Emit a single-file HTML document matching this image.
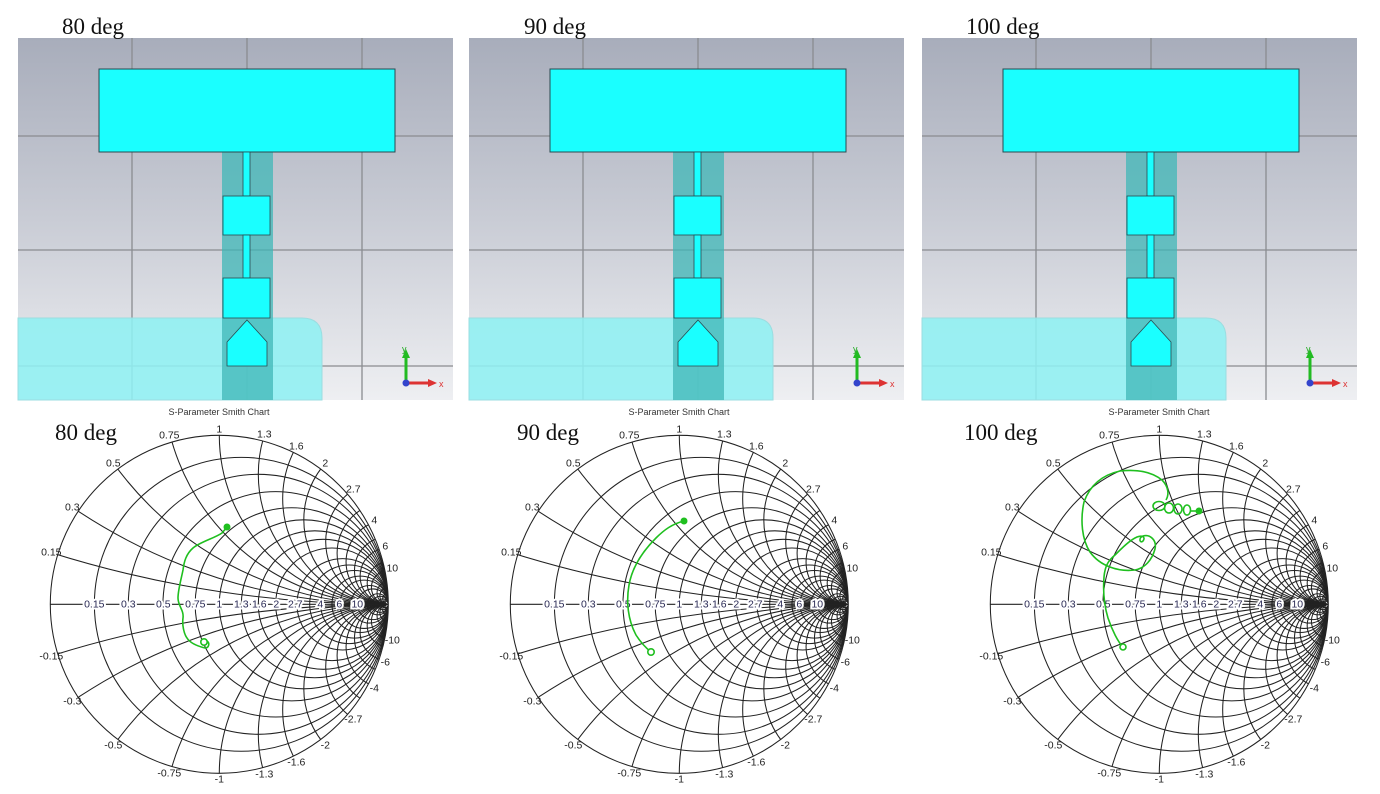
<!DOCTYPE html>
<html><head><meta charset="utf-8"><style>
html,body{margin:0;padding:0;background:#fff;overflow:hidden;}
svg{display:block;}
.lb{font-family:"Liberation Serif",serif;font-size:23px;fill:#111;}
.tk{font-family:"Liberation Sans",sans-serif;font-size:10.5px;fill:#222;text-anchor:middle;dominant-baseline:central;}
.ax{font-family:"Liberation Sans",sans-serif;font-size:10.5px;fill:#2a2a55;text-anchor:middle;dominant-baseline:central;paint-order:stroke;stroke:#fff;stroke-width:4px;}
.tt{font-family:"Liberation Sans",sans-serif;font-size:9px;fill:#333;text-anchor:middle;}
</style></head><body>
<svg width="1380" height="794" viewBox="0 0 1380 794" xmlns="http://www.w3.org/2000/svg">
<defs>
<linearGradient id="bg" x1="0" y1="0" x2="0" y2="1">
<stop offset="0" stop-color="#a8adbb"/><stop offset="0.5" stop-color="#c9ccd5"/><stop offset="1" stop-color="#eeeff2"/>
</linearGradient>
<clipPath id="uc"><circle cx="0" cy="0" r="1"/></clipPath>
<g id="panel">
<rect x="18" y="38" width="435" height="362" fill="url(#bg)"/>
<g stroke="#8a8c90" stroke-width="1.3">
<line x1="132" y1="38" x2="132" y2="400"/><line x1="247" y1="38" x2="247" y2="400"/><line x1="362" y1="38" x2="362" y2="400"/>
<line x1="18" y1="136" x2="453" y2="136"/><line x1="18" y1="250" x2="453" y2="250"/><line x1="18" y1="366" x2="453" y2="366"/>
</g>
<path d="M18 318 H302 Q322 318 322 338 V400 H18 Z" fill="#8ff0f2" fill-opacity="0.88" stroke="#9bdde0"/>
<rect x="222" y="152" width="51" height="248" fill="#3fb7b7" fill-opacity="0.75"/>
<rect x="99" y="69" width="296" height="83" fill="#1affff" stroke="#2a4a50" stroke-width="1"/>
<rect x="243" y="152" width="7" height="44" fill="#1affff" stroke="#2a4a50" stroke-width="0.8"/>
<rect x="223" y="196" width="47" height="39" fill="#1affff" stroke="#2a4a50" stroke-width="0.8"/>
<rect x="243" y="235" width="7" height="43" fill="#1affff" stroke="#2a4a50" stroke-width="0.8"/>
<rect x="223" y="278" width="47" height="40" fill="#1affff" stroke="#2a4a50" stroke-width="0.8"/>
<path d="M247 320 L267 342 V366 H227 V342 Z" fill="#1affff" stroke="#2a4a50" stroke-width="0.8"/>
<line x1="406" y1="383" x2="406" y2="356" stroke="#22bb22" stroke-width="3"/>
<path d="M402 358 L406 349 L410 358 Z" fill="#22bb22"/>
<line x1="406" y1="383" x2="430" y2="383" stroke="#dd3333" stroke-width="3"/>
<path d="M428 379 L437 383 L428 387 Z" fill="#dd3333"/>
<circle cx="406" cy="383" r="3.5" fill="#3344cc"/>
</g>
<g id="grid" fill="none" stroke="#222" stroke-width="0.0062">
<g clip-path="url(#uc)">
<circle cx=".1304" cy="0" r=".8696"/><circle cx=".2308" cy="0" r=".7692"/><circle cx=".3333" cy="0" r=".6667"/>
<circle cx=".4286" cy="0" r=".5714"/><circle cx=".5" cy="0" r=".5"/><circle cx=".5652" cy="0" r=".4348"/>
<circle cx=".6154" cy="0" r=".3846"/><circle cx=".6667" cy="0" r=".3333"/><circle cx=".7297" cy="0" r=".2703"/>
<circle cx=".7674" cy="0" r=".2326"/><circle cx=".8" cy="0" r=".2"/><circle cx=".8333" cy="0" r=".1667"/>
<circle cx=".8571" cy="0" r=".1429"/><circle cx=".8889" cy="0" r=".1111"/><circle cx=".9091" cy="0" r=".0909"/>
<circle cx=".9375" cy="0" r=".0625"/><circle cx=".9524" cy="0" r=".0476"/><circle cx=".9677" cy="0" r=".0323"/><circle cx=".9804" cy="0" r=".0196"/>
<circle cx="1" cy="-6.667" r="6.667"/><circle cx="1" cy="6.667" r="6.667"/>
<circle cx="1" cy="-3.333" r="3.333"/><circle cx="1" cy="3.333" r="3.333"/>
<circle cx="1" cy="-2" r="2"/><circle cx="1" cy="2" r="2"/>
<circle cx="1" cy="-1.333" r="1.333"/><circle cx="1" cy="1.333" r="1.333"/>
<circle cx="1" cy="-1" r="1"/><circle cx="1" cy="1" r="1"/>
<circle cx="1" cy="-.7692" r=".7692"/><circle cx="1" cy=".7692" r=".7692"/>
<circle cx="1" cy="-.625" r=".625"/><circle cx="1" cy=".625" r=".625"/>
<circle cx="1" cy="-.5" r=".5"/><circle cx="1" cy=".5" r=".5"/>
<circle cx="1" cy="-.3704" r=".3704"/><circle cx="1" cy=".3704" r=".3704"/>
<circle cx="1" cy="-.303" r=".303"/><circle cx="1" cy=".303" r=".303"/>
<circle cx="1" cy="-.25" r=".25"/><circle cx="1" cy=".25" r=".25"/>
<circle cx="1" cy="-.2" r=".2"/><circle cx="1" cy=".2" r=".2"/>
<circle cx="1" cy="-.1667" r=".1667"/><circle cx="1" cy=".1667" r=".1667"/>
<circle cx="1" cy="-.125" r=".125"/><circle cx="1" cy=".125" r=".125"/>
<circle cx="1" cy="-.1" r=".1"/><circle cx="1" cy=".1" r=".1"/>
<circle cx="1" cy="-.0667" r=".0667"/><circle cx="1" cy=".0667" r=".0667"/>
<circle cx="1" cy="-.05" r=".05"/><circle cx="1" cy=".05" r=".05"/>
<circle cx="1" cy="-.0333" r=".0333"/><circle cx="1" cy=".0333" r=".0333"/>
<circle cx="1" cy="-.02" r=".02"/><circle cx="1" cy=".02" r=".02"/>
<line x1="-1" y1="0" x2="1" y2="0"/>
</g>
<circle cx="0" cy="0" r="1"/>
</g>
</defs>

<use href="#panel"/>
<use href="#panel" x="451"/>
<use href="#panel" x="904"/>
<g font-family="Liberation Sans,sans-serif" font-size="9">
<text x="402" y="352" fill="#22aa22">y</text><text x="439" y="387" fill="#dd3333">x</text>
<text x="853" y="352" fill="#22aa22">y</text><text x="890" y="387" fill="#dd3333">x</text>
<text x="1306" y="352" fill="#22aa22">y</text><text x="1343" y="387" fill="#dd3333">x</text>
</g>
<text class="lb" x="62" y="34">80 deg</text>
<text class="lb" x="524" y="34">90 deg</text>
<text class="lb" x="966" y="34">100 deg</text>

<g transform="translate(219.3,604.3) scale(169)"><use href="#grid"/></g>
<g transform="translate(679.3,604.3) scale(169)"><use href="#grid"/></g>
<g transform="translate(1159.3,604.3) scale(169)"><use href="#grid"/></g>

<text class="tt" x="219" y="415">S-Parameter Smith Chart</text>
<text class="tt" x="679" y="415">S-Parameter Smith Chart</text>
<text class="tt" x="1159" y="415">S-Parameter Smith Chart</text>
<text class="lb" x="55" y="440">80 deg</text>
<text class="lb" x="517" y="440">90 deg</text>
<text class="lb" x="964" y="440">100 deg</text>

<g transform="translate(219.3,604.3)">
<text class="tk" x="-168" y="-52">0.15</text><text class="tk" x="-147" y="-97">0.3</text><text class="tk" x="-106" y="-141">0.5</text><text class="tk" x="-50" y="-169">0.75</text><text class="tk" x="0" y="-175">1</text><text class="tk" x="45" y="-170">1.3</text><text class="tk" x="77" y="-158">1.6</text><text class="tk" x="106" y="-141">2</text><text class="tk" x="134" y="-115">2.7</text><text class="tk" x="155" y="-84">4</text><text class="tk" x="166" y="-58">6</text><text class="tk" x="173" y="-36">10</text>
<text class="tk" x="-168" y="52">-0.15</text><text class="tk" x="-147" y="97">-0.3</text><text class="tk" x="-106" y="141">-0.5</text><text class="tk" x="-50" y="169">-0.75</text><text class="tk" x="0" y="175">-1</text><text class="tk" x="45" y="170">-1.3</text><text class="tk" x="77" y="158">-1.6</text><text class="tk" x="106" y="141">-2</text><text class="tk" x="134" y="115">-2.7</text><text class="tk" x="155" y="84">-4</text><text class="tk" x="166" y="58">-6</text><text class="tk" x="173" y="36">-10</text>
<text class="ax" x="-125" y="0">0.15</text><text class="ax" x="-91" y="0">0.3</text><text class="ax" x="-56" y="0">0.5</text><text class="ax" x="-24" y="0">0.75</text><text class="ax" x="0" y="0">1</text><text class="ax" x="22" y="0">1.3</text><text class="ax" x="40" y="0">1.6</text><text class="ax" x="57" y="0">2</text><text class="ax" x="76" y="0">2.7</text><text class="ax" x="101" y="0">4</text><text class="ax" x="120" y="0">6</text><text class="ax" x="138" y="0">10</text>
</g>
<g transform="translate(679.3,604.3)">
<text class="tk" x="-168" y="-52">0.15</text><text class="tk" x="-147" y="-97">0.3</text><text class="tk" x="-106" y="-141">0.5</text><text class="tk" x="-50" y="-169">0.75</text><text class="tk" x="0" y="-175">1</text><text class="tk" x="45" y="-170">1.3</text><text class="tk" x="77" y="-158">1.6</text><text class="tk" x="106" y="-141">2</text><text class="tk" x="134" y="-115">2.7</text><text class="tk" x="155" y="-84">4</text><text class="tk" x="166" y="-58">6</text><text class="tk" x="173" y="-36">10</text>
<text class="tk" x="-168" y="52">-0.15</text><text class="tk" x="-147" y="97">-0.3</text><text class="tk" x="-106" y="141">-0.5</text><text class="tk" x="-50" y="169">-0.75</text><text class="tk" x="0" y="175">-1</text><text class="tk" x="45" y="170">-1.3</text><text class="tk" x="77" y="158">-1.6</text><text class="tk" x="106" y="141">-2</text><text class="tk" x="134" y="115">-2.7</text><text class="tk" x="155" y="84">-4</text><text class="tk" x="166" y="58">-6</text><text class="tk" x="173" y="36">-10</text>
<text class="ax" x="-125" y="0">0.15</text><text class="ax" x="-91" y="0">0.3</text><text class="ax" x="-56" y="0">0.5</text><text class="ax" x="-24" y="0">0.75</text><text class="ax" x="0" y="0">1</text><text class="ax" x="22" y="0">1.3</text><text class="ax" x="40" y="0">1.6</text><text class="ax" x="57" y="0">2</text><text class="ax" x="76" y="0">2.7</text><text class="ax" x="101" y="0">4</text><text class="ax" x="120" y="0">6</text><text class="ax" x="138" y="0">10</text>
</g>
<g transform="translate(1159.3,604.3)">
<text class="tk" x="-168" y="-52">0.15</text><text class="tk" x="-147" y="-97">0.3</text><text class="tk" x="-106" y="-141">0.5</text><text class="tk" x="-50" y="-169">0.75</text><text class="tk" x="0" y="-175">1</text><text class="tk" x="45" y="-170">1.3</text><text class="tk" x="77" y="-158">1.6</text><text class="tk" x="106" y="-141">2</text><text class="tk" x="134" y="-115">2.7</text><text class="tk" x="155" y="-84">4</text><text class="tk" x="166" y="-58">6</text><text class="tk" x="173" y="-36">10</text>
<text class="tk" x="-168" y="52">-0.15</text><text class="tk" x="-147" y="97">-0.3</text><text class="tk" x="-106" y="141">-0.5</text><text class="tk" x="-50" y="169">-0.75</text><text class="tk" x="0" y="175">-1</text><text class="tk" x="45" y="170">-1.3</text><text class="tk" x="77" y="158">-1.6</text><text class="tk" x="106" y="141">-2</text><text class="tk" x="134" y="115">-2.7</text><text class="tk" x="155" y="84">-4</text><text class="tk" x="166" y="58">-6</text><text class="tk" x="173" y="36">-10</text>
<text class="ax" x="-125" y="0">0.15</text><text class="ax" x="-91" y="0">0.3</text><text class="ax" x="-56" y="0">0.5</text><text class="ax" x="-24" y="0">0.75</text><text class="ax" x="0" y="0">1</text><text class="ax" x="22" y="0">1.3</text><text class="ax" x="40" y="0">1.6</text><text class="ax" x="57" y="0">2</text><text class="ax" x="76" y="0">2.7</text><text class="ax" x="101" y="0">4</text><text class="ax" x="120" y="0">6</text><text class="ax" x="138" y="0">10</text>
</g>

<g fill="none" stroke="#1fbf1f" stroke-width="1.6">
<path d="M227 527 L222 533 C215 538 200 542 193 548 C186 554 184 562 183 570 C181 580 178 590 178 598 C178 606 184 610 183 618 C182 625 184 634 187 638 C190 643 197 646 205 648 C209 648 210 643 207 641"/>
<circle cx="204" cy="642" r="3.2" fill="#fff"/>
<path d="M684 521 C672 524 664 530 656 538 C642 552 632 568 629 585 C626 602 628 620 636 635 C641 643 646 648 651 652"/>
<circle cx="651" cy="652" r="3.2" fill="#fff"/>
<path d="M1123 647 C1118 642 1112 630 1108 618 C1104 605 1103 590 1104 577 C1105 565 1109 560 1115 555 C1122 548 1130 540 1137 537 C1142 535 1146 537 1143 541 C1140 544 1138 538 1143 536 C1150 534 1157 540 1155 549 C1152 560 1145 568 1135 570 C1118 572 1100 566 1090 552 C1082 540 1080 520 1084 502 C1090 485 1102 475 1120 471 C1138 469 1152 472 1162 480 C1169 487 1169 495 1166 500"/>
<ellipse cx="1159" cy="506" rx="6" ry="4.5"/>
<ellipse cx="1169" cy="508" rx="4.5" ry="5"/>
<ellipse cx="1178" cy="509" rx="4" ry="5"/>
<ellipse cx="1187" cy="510" rx="3.5" ry="5"/>
<path d="M1190 511 L1199 511"/>
<circle cx="1123" cy="647" r="3" fill="#fff"/>
</g>
<circle cx="227" cy="527" r="3.5" fill="#1fbf1f"/>
<circle cx="684" cy="521" r="3.5" fill="#1fbf1f"/>
<circle cx="1199" cy="511" r="3.5" fill="#1fbf1f"/>
</svg>
</body></html>
